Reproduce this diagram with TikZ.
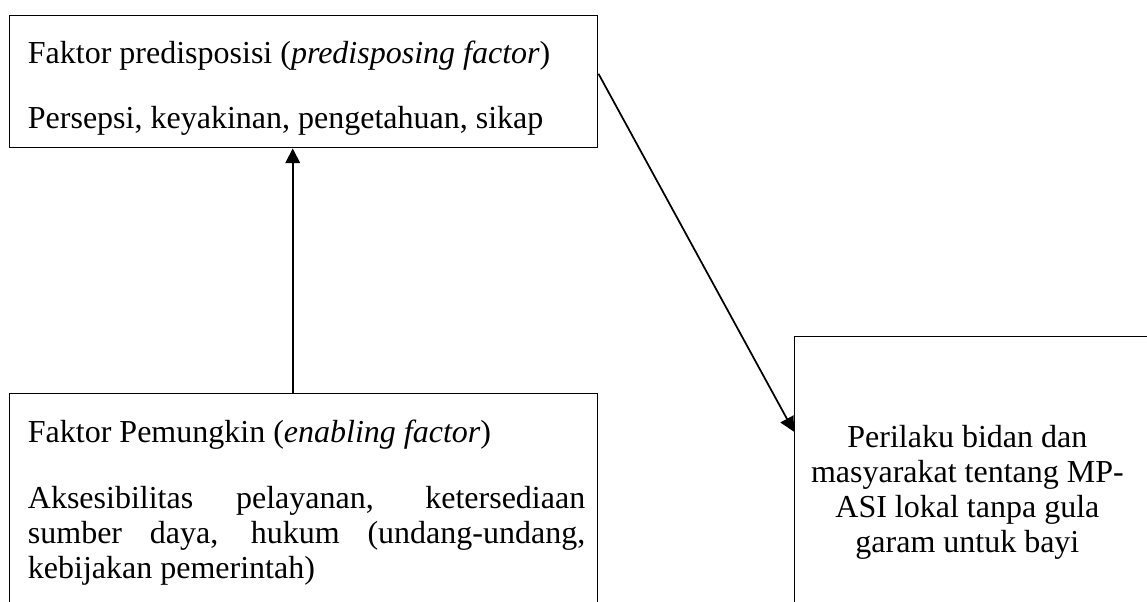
\documentclass[tikz,border=0pt]{standalone}
\usepackage{fontspec}
\setmainfont{Liberation Serif}
\usetikzlibrary{positioning,arrows.meta}

\begin{document}
\begin{tikzpicture}[x=0.75pt,y=-0.75pt,
		every node/.style={font=\fontsize{24}{26.25}\selectfont},
		factorbox/.style={draw=black, line width=1.1pt, anchor=north west, minimum width=441pt, inner sep=0pt},
		textline/.style={anchor=base west, inner sep=0pt},
		arr/.style={-{Triangle[length=11pt,width=11pt]}, line width=1.3pt}]
		% Canvas
		\path[use as bounding box] (0,0) rectangle (1147,601);
		\clip (0,0) rectangle (1147,601);
		
		% Predisposing factor (top)
		\node[factorbox, minimum height=99pt] (pred) at (9,15) {};
		\node[textline] (predtitle) at ([xshift=14pt,yshift=-36pt]pred.north west) {Faktor predisposisi (\textit{predisposing factor})};
		\node[textline] (predbody) at ([yshift=-48.75pt]predtitle.base west) {Persepsi, keyakinan, pengetahuan, sikap};
		
		% Enabling factor (bottom left, runs off the page)
		\node[factorbox, minimum height=190pt] (enab) at (9,393) {};
		\node[textline] (enabtitle) at ([xshift=14pt,yshift=-36.75pt]enab.north west) {Faktor Pemungkin (\textit{enabling factor})};
		\node[textline, text width=418pt, align=justify] (enabbody) at ([yshift=-49.5pt]enabtitle.base west) {\hyphenpenalty=10000 \exhyphenpenalty=10000 \tolerance=9999 Aksesibilitas pelayanan, ketersediaan\linebreak sumber daya, hukum (undang-undang,\linebreak kebijakan pemerintah)};
		
		% Behaviour (right, runs off the page)
		\node[draw=black, line width=1.1pt, anchor=north west, minimum width=267pt, minimum height=232.5pt] (beh) at (794,336) {};
		\node[anchor=base, inner sep=0pt, align=center] (behtext) at ([xshift=-4pt,yshift=-162pt]beh.north) {Perilaku bidan dan\\masyarakat tentang MP-\\ASI lokal tanpa gula\\garam untuk bayi};
		
		% Connectors
		\draw[arr] ([xshift=-8.25pt]enab.north) -- ([xshift=-8.25pt]pred.south);
		\draw[arr] ([yshift=6pt]pred.east) -- ([yshift=45pt]beh.west);
		
	\end{tikzpicture}
\end{document}
